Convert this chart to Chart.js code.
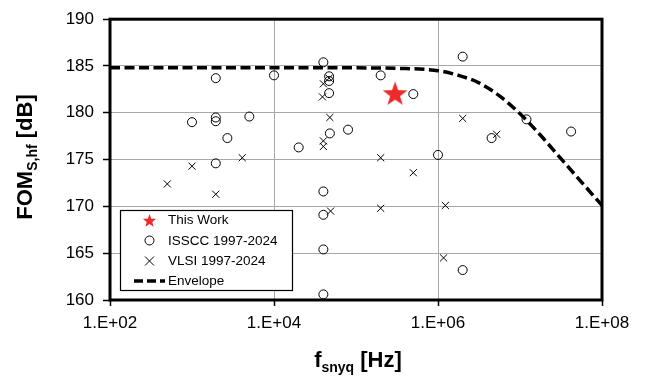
<!DOCTYPE html>
<html>
<head>
<meta charset="utf-8">
<script src="https://cdn.jsdelivr.net/npm/chart.js@4/dist/chart.umd.min.js"></script>
<style>
html,body{margin:0;padding:0;background:#fff;}
#wrap{width:646px;height:376px;position:relative;}
</style>
</head>
<body>
<div id="wrap"><canvas id="c" width="646" height="376"></canvas></div>
<script>
// ---- data ----
const xTickValues = [1e2, 1e4, 1e6, 1e8];
const yTickValues = [160, 165, 170, 175, 180, 185, 190];

const thisWorkX = [3.0e5];
const thisWorkY = [182.1];

const isscX = [1.95e3, 1.0e4, 1.95e3, 1.95e3, 1.0e3, 5.0e3, 2.7e3, 1.95e3,
  4.0e4, 4.7e4, 4.7e4, 4.7e4, 2.0e5, 5.0e5, 8.0e4, 4.8e4, 2.0e4, 1.0e6,
  2.0e6, 1.2e7, 4.2e7, 4.5e6, 4.0e4, 4.0e4, 4.0e4, 4.0e4, 2.0e6];
const isscY = [183.7, 184.0, 179.5, 179.1, 179.0, 179.6, 177.3, 174.6,
  185.4, 183.9, 183.4, 182.1, 184.0, 182.0, 178.2, 177.8, 176.3, 175.5,
  186.0, 179.3, 178.0, 177.3, 171.6, 169.1, 165.4, 160.6, 163.2];

const vlsiX = [4.1e3, 1.0e3, 5.0e2, 1.95e3, 4.0e4, 3.9e4, 4.8e4, 4.0e4, 4.0e4,
  2.0e5, 5.0e5, 4.9e4, 2.0e5, 1.23e6, 1.17e6, 2.0e6, 5.2e6, 4.7e4];
const vlsiY = [175.2, 174.3, 172.4, 171.3, 183.1, 181.7, 179.5, 177.0, 176.4,
  175.2, 173.6, 169.5, 169.8, 170.1, 164.5, 179.4, 177.7, 183.7];

const envX = [1e2, 1e5, 3.16e5, 1e6, 1.78e6, 3.16e6, 5.62e6, 1e7, 1.78e7, 3.16e7, 5.62e7, 1e8];
const envY = [184.8, 184.8, 184.75, 184.5, 184.0, 183.2, 181.8, 179.9, 177.6, 175.1, 172.6, 170.1];

const legendLabels = ['This Work', 'ISSCC 1997-2024', 'VLSI 1997-2024', 'Envelope'];

// ---- helpers ----
const FONT = "Arial, 'Liberation Sans', sans-serif";
const RED = '#ee2a2a';
function starPath(ctx, cx, cy, R, r) {
  ctx.beginPath();
  for (let i = 0; i < 10; i++) {
    const rad = i % 2 === 0 ? R : r;
    const a = -Math.PI / 2 + i * Math.PI / 5;
    const px = cx + rad * Math.cos(a), py = cy + rad * Math.sin(a);
    if (i === 0) ctx.moveTo(px, py); else ctx.lineTo(px, py);
  }
  ctx.closePath();
}
function makeStar(size, R, r) {
  const cv = document.createElement('canvas');
  cv.width = size; cv.height = size;
  const g = cv.getContext('2d');
  g.fillStyle = RED;
  starPath(g, size / 2, size / 2 + R * 0.1, R, r);
  g.fill();
  return cv;
}
const bigStar = makeStar(28, 13, 5.2);

const pts = (xs, ys) => xs.map((x, i) => ({ x: x, y: ys[i] }));

const decor = {
  id: 'decor',
  afterDraw(chart) {
    const ctx = chart.ctx;
    const a = chart.chartArea;
    ctx.save();
    // plot frame
    ctx.strokeStyle = '#000';
    ctx.lineWidth = 3;
    ctx.strokeRect(a.left, a.top, a.right - a.left, a.bottom - a.top);

    // legend box
    const lx = 120.5, ly = 210.5, lw = 172, lh = 80;
    ctx.fillStyle = '#fff';
    ctx.fillRect(lx, ly, lw, lh);
    ctx.lineWidth = 1.2;
    ctx.strokeStyle = '#000';
    ctx.strokeRect(lx, ly, lw, lh);
    const rows = [220, 240.5, 261, 281];
    const sx = 149.5, tx = 168;
    // star
    ctx.fillStyle = RED;
    starPath(ctx, sx, rows[0] + 1, 7, 2.9);
    ctx.fill();
    // circle
    ctx.lineWidth = 1;
    ctx.strokeStyle = '#000';
    ctx.beginPath(); ctx.arc(sx, rows[1], 4.5, 0, Math.PI * 2); ctx.stroke();
    // cross
    ctx.beginPath();
    ctx.moveTo(sx - 4.5, rows[2] - 4.5); ctx.lineTo(sx + 4.5, rows[2] + 4.5);
    ctx.moveTo(sx + 4.5, rows[2] - 4.5); ctx.lineTo(sx - 4.5, rows[2] + 4.5);
    ctx.stroke();
    // envelope dash
    ctx.lineWidth = 3.5;
    ctx.setLineDash([9, 4]);
    ctx.beginPath(); ctx.moveTo(134, rows[3]); ctx.lineTo(165, rows[3]); ctx.stroke();
    ctx.setLineDash([]);
    ctx.fillStyle = '#000';
    ctx.font = '13.5px ' + FONT;
    ctx.textBaseline = 'middle';
    ctx.textAlign = 'left';
    legendLabels.forEach((t, i) => ctx.fillText(t, tx, rows[i] + 0.5));

    // axis titles
    const big = 'bold 22px ' + FONT, small = 'bold 14px ' + FONT;
    function drawTitle(parts, cx, cy) {
      let w = 0;
      parts.forEach(p => { ctx.font = p[1]; w += ctx.measureText(p[0]).width; });
      let x = cx - w / 2;
      parts.forEach(p => {
        ctx.font = p[1];
        ctx.fillText(p[0], x, cy + p[2]);
        x += ctx.measureText(p[0]).width;
      });
    }
    ctx.textBaseline = 'alphabetic';
    ctx.fillStyle = '#000';
    drawTitle([['f', big, 0], ['snyq', small, 5], [' [Hz]', big, 0]], 358, 367);
    ctx.translate(32, 157);
    ctx.rotate(-Math.PI / 2);
    drawTitle([['FOM', big, 0], ['S,hf', small, 5], [' [dB]', big, 0]], 0, 0);
    ctx.restore();
  }
};

new Chart(document.getElementById('c'), {
  type: 'scatter',
  data: {
    datasets: [
      { label: 'This Work', data: pts(thisWorkX, thisWorkY), pointStyle: bigStar, pointRadius: 12, order: 0 },
      { label: 'ISSCC 1997-2024', data: pts(isscX, isscY), pointStyle: 'circle', pointRadius: 4.5,
        borderColor: '#000', backgroundColor: 'rgba(0,0,0,0)', borderWidth: 1, order: 1 },
      { label: 'VLSI 1997-2024', data: pts(vlsiX, vlsiY), pointStyle: 'crossRot', pointRadius: 5,
        borderColor: '#000', backgroundColor: '#000', borderWidth: 1, order: 2 },
      { label: 'Envelope', type: 'line', data: pts(envX, envY), borderColor: '#000', borderWidth: 3.5,
        borderDash: [10, 4.5], pointRadius: 0, fill: false, tension: 0.35, cubicInterpolationMode: 'monotone', order: 3 }
    ]
  },
  options: {
    responsive: false,
    animation: false,
    layout: { padding: { top: 16, right: 44, left: 0, bottom: 0 } },
    plugins: { legend: { display: false }, tooltip: { enabled: false } },
    scales: {
      x: {
        type: 'logarithmic', min: 1e2, max: 1e8,
        afterBuildTicks: s => { s.ticks = xTickValues.map(v => ({ value: v })); },
        afterFit: s => { s.height = 76; },
        grid: { color: '#a8a8a8', lineWidth: 1, tickLength: 6, tickColor: '#000', tickWidth: 1.5 },
        border: { display: false },
        ticks: {
          autoSkip: false, maxRotation: 0, padding: 7, color: '#000',
          font: { family: FONT, size: 17 },
          callback: v => '1.E+' + String(Math.round(Math.log10(v))).padStart(2, '0')
        }
      },
      y: {
        min: 160, max: 190,
        afterBuildTicks: s => { s.ticks = yTickValues.map(v => ({ value: v })); },
        afterFit: s => { s.width = 110; },
        grid: { color: '#a8a8a8', lineWidth: 1, tickLength: 7, tickColor: '#000', tickWidth: 1.5 },
        border: { display: false },
        ticks: { padding: 9, color: '#000', font: { family: FONT, size: 17 } }
      }
    }
  },
  plugins: [decor]
});
</script>
</body>
</html>
